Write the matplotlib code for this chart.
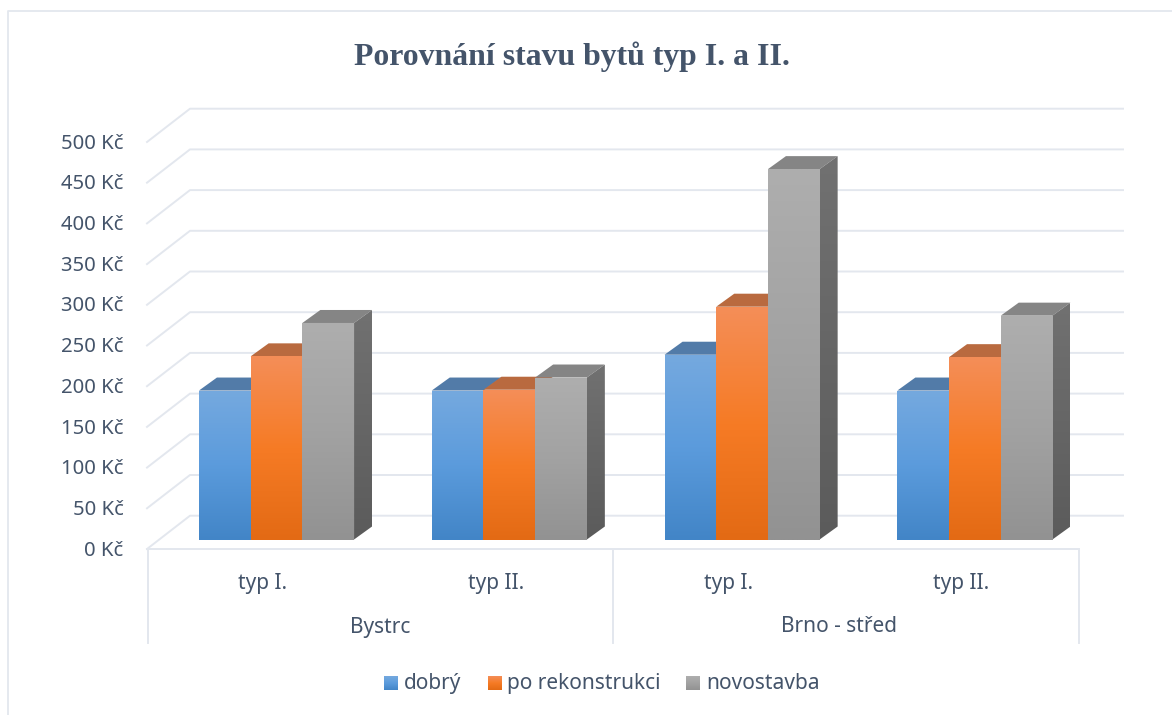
import numpy as np
import matplotlib
matplotlib.use("Agg")
import matplotlib.pyplot as plt
from matplotlib.patches import Polygon
from matplotlib.colors import LinearSegmentedColormap

# ---- data ----
groups = ["Bystrc", "Brno - střed"]
subgroups = ["typ I.", "typ II.", "typ I.", "typ II."]
series_names = ["dobrý", "po rekonstrukci", "novostavba"]
dobry = [183, 183, 227, 183]
po_rekonstrukci = [225, 184, 286, 224]
novostavba = [266, 199, 455, 275]
y_ticks = [0, 50, 100, 150, 200, 250, 300, 350, 400, 450, 500]
title = "Porovnání stavu bytů typ I. a II."

# ---- style ----
FONT = "Noto Sans"
TXT = "#44546a"
GRID = "#e3e7ee"
front_cols = [["#75a9df", "#5b9bdc", "#4285c7"],
              ["#f48e58", "#f67b25", "#e36a14"],
              ["#aeaeae", "#a2a2a2", "#929292"]]
top_cols = ["#527ba8", "#b96a3f", "#858585"]
side_grad = ["#717171", "#5b5b5b"]

W, H = 1172, 715
PX_PER_VAL = 0.814
BASE_PY = 539.5
CAT_PX = 232.8
CAT0_PX = 276.5

fig = plt.figure(figsize=(W / 100, H / 100), dpi=100)
ax = fig.add_axes([0, 0, 1, 1])
ax.axis("off")

def X(px):
    return (px - CAT0_PX) / CAT_PX

def Y(py):
    return (BASE_PY - py) / PX_PER_VAL

xlim = (X(0), X(W))
ylim = (Y(H), Y(0))

bar_w = 51.7 / CAT_PX
dep_x = 18 / CAT_PX
dep_y = 13 / PX_PER_VAL
wall_dy = (BASE_PY - 515.7) / PX_PER_VAL
floor_dy = (BASE_PY - 549) / PX_PER_VAL

def grad(cols, x0, x1, y0, y1, z, clip=None):
    cm = LinearSegmentedColormap.from_list("g", cols)
    im = ax.imshow(np.linspace(0, 1, 256)[:, None], extent=(x0, x1, y0, y1),
                   origin="upper", aspect="auto", cmap=cm, zorder=z,
                   interpolation="bilinear")
    if clip is not None:
        p = Polygon(clip, transform=ax.transData, fc="none", ec="none")
        ax.add_patch(p)
        im.set_clip_path(p)
    return im

# chart frame
ax.plot([X(8), X(8), X(W)], [Y(H), Y(10.5), Y(10.5)], color=GRID, lw=1.3, zorder=1)

# walls and gridlines
for t in y_ticks:
    y_front = t * 1.0 + floor_dy
    y_back = t * 1.0 + wall_dy
    ax.plot([X(147), X(190), X(1123)], [y_front, y_back, y_back],
            color=GRID, lw=1.4, zorder=2, solid_joinstyle="round")
    ax.text(X(123.5), y_front - 2, f"{t} Kč", ha="right", va="center",
            fontsize=14.6, color=TXT, family=FONT)

# bottom category axis
ax.plot([X(147), X(1078.5)], [floor_dy, floor_dy], color=GRID, lw=1.4, zorder=2)
for px in (147.5, 612.7, 1078.5):
    ax.plot([X(px), X(px)], [floor_dy, Y(642.5)], color=GRID, lw=1.4, zorder=2)

# bars
series = [dobry, po_rekonstrukci, novostavba]
for c in range(len(subgroups)):
    left = c - 1.5 * bar_w
    for s, vals in enumerate(series):
        v = vals[c]
        x0 = left + s * bar_w
        x1 = x0 + bar_w
        z = 5 + c * 3 + s * 0.5
        top = [(x0, v), (x1, v), (x1 + dep_x, v + dep_y), (x0 + dep_x, v + dep_y)]
        ax.add_patch(Polygon(top, fc=top_cols[s], ec="none", zorder=z))
        side = [(x1, 0), (x1 + dep_x, dep_y), (x1 + dep_x, v + dep_y), (x1, v)]
        if s == 2:
            grad(side_grad, x1, x1 + dep_x, 0, v + dep_y, z, clip=side)
        grad(front_cols[s], x0, x1, 0, v, z + 0.1)

ax.text(X(572), Y(56.5), title, ha="center", va="center", fontsize=22.9,
        fontweight="bold", color=TXT, family="Liberation Serif")

# category labels
for c, lab in enumerate(subgroups):
    ax.text(c + X(263) - X(276.5), Y(583.5), lab, ha="center", va="center",
            fontsize=15, color=TXT, family=FONT)
for px, lab in zip((380.5, 839), groups):
    ax.text(X(px), Y(627), lab, ha="center", va="center", fontsize=15,
            color=TXT, family=FONT)

# legend
for s, name, px, tx in zip(range(3), series_names, (384, 488, 686), (404, 507, 706)):
    grad(front_cols[s], X(px), X(px + 14), Y(690), Y(676), 20)
    ax.text(X(tx), Y(683.5), name, ha="left", va="center", fontsize=15,
            color=TXT, family=FONT)

ax.set_xlim(*xlim)
ax.set_ylim(*ylim)
fig.savefig("out.png", dpi=100, facecolor="white")
